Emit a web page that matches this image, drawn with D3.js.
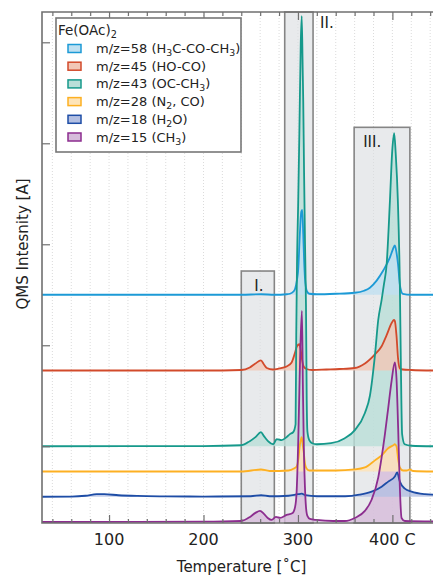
<!DOCTYPE html>
<html><head><meta charset="utf-8">
<script src="https://cdn.jsdelivr.net/npm/d3@7"></script>
<style>
body{margin:0;background:#fff}
svg{display:block;font-family:"DejaVu Sans",sans-serif}
</style>
</head><body>
<svg id="chart" width="433" height="576"></svg>
<script>
// ---------- data ----------
const legendTitle = "Fe(OAc)_2";
const seriesLabels = ["m/z=58 (H_3C-CO-CH_3)","m/z=45 (HO-CO)","m/z=43 (OC-CH_3)","m/z=28 (N_2, CO)","m/z=18 (H_2O)","m/z=15 (CH_3)"];
const offsets = [2.5, 1.75, 1.0, 0.75, 0.5, 0.25];
// [temperature °C, signal above baseline]
const mz58 = [[29,0],[240,0],[261,0.005],[275,0],[288,0.005],[291.5,0.01],[295,0.03],[297,0.06],[299,0.15],[300.3,0.25],[302,0.6],[303.5,0.82],[304.5,0.84],[305.6,0.6],[306.5,0.35],[307.4,0.17],[308.5,0.07],[309.8,0.03],[312,0.01],[320,0.005],[340,0.01],[360,0.02],[370,0.04],[376.2,0.07],[383.3,0.14],[390.3,0.24],[397.4,0.37],[400.5,0.45],[402.6,0.49],[404.3,0.42],[406,0.3],[407.9,0.1],[409.5,0.03],[411,0.01],[420,0],[443,0]];
const mz45 = [[29,0],[200,0],[240,0.005],[249,0.03],[255,0.07],[260.8,0.1],[264,0.06],[267,0.025],[273.5,0.01],[280,0.02],[288,0.04],[293.3,0.08],[296.7,0.17],[299,0.24],[301.5,0.26],[303,0.2],[304.5,0.1],[306,0.04],[309,0.015],[315,0.005],[330,0.01],[344,0.015],[360,0.025],[370.9,0.07],[381.5,0.16],[388.6,0.24],[393.9,0.35],[399.2,0.47],[401.5,0.5],[402.6,0.49],[404.3,0.35],[406,0.12],[407.9,0.02],[411,0.01],[420,0.005],[443,0]];
const mz43 = [[29,0],[200,0.002],[240,0.01],[249,0.05],[255,0.09],[260.8,0.14],[264,0.1],[268.3,0.05],[273.9,0.02],[277.5,0.07],[282.7,0.06],[288,0.09],[291.5,0.12],[295,0.14],[297.5,0.22],[298.2,1.1],[299,1.8],[300.3,2.43],[301.5,3.1],[303,4.0],[304,4.26],[305,3.75],[305.6,3.42],[306.5,2.7],[307.5,2.0],[308.5,1.4],[309.3,0.45],[310,0.15],[312,0.06],[315,0.03],[320,0.02],[335,0.03],[349.7,0.08],[360.3,0.16],[370.9,0.33],[376.2,0.5],[381.5,0.9],[385,1.25],[388.6,1.45],[391,1.6],[393.9,1.8],[397.4,2.43],[399.8,2.92],[401.9,3.1],[403.5,2.9],[405.8,2.43],[407.9,1.6],[409,0.8],[410.3,0.12],[413,0.02],[420,0.005],[443,0]];
const mz28 = [[29,0],[240,0],[261,0.02],[270,0.005],[290,0.01],[295.8,0.03],[298.6,0.05],[300.3,0.11],[302,0.26],[303.9,0.34],[305,0.27],[306.3,0.18],[307.4,0.08],[309.1,0.03],[312,0.01],[340,0.01],[360,0.02],[370.9,0.04],[381.5,0.11],[388.6,0.16],[395.6,0.23],[401,0.26],[402.6,0.27],[404.3,0.25],[406.1,0.12],[407.9,0.04],[411.4,0.01],[415,0.01],[418.5,0.02],[422,0.005],[443,0]];
const mz18 = [[29,0],[60,0.002],[75,0.01],[87,0.025],[95,0.025],[110,0.015],[130,0.008],[160,0.004],[200,0.002],[250,0.005],[261,0.015],[270,0.005],[290,0.01],[300,0.025],[304,0.03],[308,0.015],[320,0.005],[350,0.005],[365,0.02],[378,0.05],[388.6,0.1],[395.6,0.15],[402.6,0.2],[405,0.24],[407.9,0.15],[413.2,0.08],[420.3,0.05],[434.4,0.025],[443,0.02]];
const mz15 = [[29,0],[200,0.003],[240,0.01],[249.2,0.05],[255,0.09],[259.8,0.11],[264,0.08],[268,0.04],[272.2,0.02],[276.7,0.05],[281,0.04],[288,0.07],[294.4,0.09],[297,0.15],[298.6,0.3],[300.3,0.8],[301.5,1.3],[302.5,1.7],[304.2,2.09],[305.3,1.3],[306.3,0.7],[307.4,0.35],[308.5,0.15],[310,0.06],[312.7,0.03],[320,0.02],[337.4,0.01],[349.7,0.01],[360.3,0.04],[370.9,0.11],[378,0.22],[385,0.44],[388.6,0.64],[392.1,0.87],[395.6,1.13],[399.2,1.4],[402.6,1.58],[404.3,1.43],[406.1,0.93],[407.9,0.34],[409.7,0.04],[413.2,0.01],[443,0.005]];
const seriesData = [mz58, mz45, mz43, mz28, mz18, mz15];
const xTicks = [100, 200, 300, 400];
const xTickLabels = ["100", "200", "300", "400 C"];
const xMinorTicks = d3.range(40, 441, 20);
const yTicks = [1, 2, 3, 4, 5];
const regionNames = ["I.", "II.", "III."];
const regionStart = [240, 286, 359.5];
const regionEnd = [275, 316, 418.5];
const regionTop = [2.735, 5.3, 4.158];

// ---------- styles ----------
const lineColors = ["#1c9ad6", "#d24a2b", "#16998b", "#fdb022", "#1e4da6", "#8c2d8f"];
const fillColors = ["#bfe0f1", "#f2c7b6", "#b9dfd8", "#fee4b8", "#b3bfe2", "#d6bcdb"];

// ---------- scales ----------
const svg = d3.select("#chart");
const L = 42, R = 433, T = 12, B = 523;
const x = d3.scaleLinear().domain([29, 443]).range([L, R]);
const y = d3.scaleLinear().domain([0.24, 5.3]).range([B, T]);

const frameColor = "#707070";

// grid
svg.append("g").selectAll("line").data(xMinorTicks).join("line")
  .attr("x1", d => x(d)).attr("x2", d => x(d)).attr("y1", T).attr("y2", B)
  .attr("stroke", "#d2d2d2").attr("stroke-width", 0.8).attr("stroke-dasharray", "1,2");

// regions
const reg = svg.append("g");
regionNames.forEach((n, i) => {
  reg.append("rect")
    .attr("x", x(regionStart[i])).attr("y", y(regionTop[i]))
    .attr("width", x(regionEnd[i]) - x(regionStart[i]))
    .attr("height", B - y(regionTop[i]))
    .attr("fill", "#dcdee2").attr("fill-opacity", 0.65)
    .attr("stroke", "#858585").attr("stroke-width", 1.6);
});

// series: fills (lowest trace first), then lines
const area = d3.area().curve(d3.curveMonotoneX);
const line = d3.line().curve(d3.curveMonotoneX);
const fg = svg.append("g");
const lgp = svg.append("g");
d3.range(seriesData.length).reverse().forEach(i => {
  const off = offsets[i];
  area.x(d => x(d[0])).y0(y(off)).y1(d => y(d[1] + off));
  fg.append("path").attr("d", area(seriesData[i])).attr("fill", fillColors[i]).attr("fill-opacity", 0.8);
});
seriesData.forEach((data, i) => {
  const off = offsets[i];
  line.x(d => x(d[0])).y(d => y(d[1] + off));
  lgp.append("path").attr("d", line(data)).attr("fill", "none")
    .attr("stroke", lineColors[i]).attr("stroke-width", 1.8).attr("stroke-linejoin", "round");
});

// region labels
const labelOffsets = [[13, 20], [7, 16], [9, 20]];
const rl = svg.append("g").attr("font-size", 15).attr("fill", "#222");
regionNames.forEach((n, i) => {
  const bx = i === 1 ? x(regionEnd[i]) : x(regionStart[i]);
  rl.append("text").attr("x", bx + labelOffsets[i][0]).attr("y", y(regionTop[i]) + labelOffsets[i][1]).text(n);
});

// axes
function styleAxis(g) {
  g.select(".domain").remove();
  g.selectAll(".tick line").attr("stroke", frameColor).attr("stroke-width", 1.2);
  g.selectAll(".tick text").remove();
}
svg.append("g").attr("transform", `translate(0,${B})`)
  .call(d3.axisBottom(x).tickValues(xMinorTicks.filter(d => d % 100)).tickSize(-4)).call(styleAxis);
svg.append("g").attr("transform", `translate(0,${B})`)
  .call(d3.axisBottom(x).tickValues(xTicks).tickSize(-8)).call(styleAxis);
svg.append("g").attr("transform", `translate(0,${T})`)
  .call(d3.axisTop(x).tickValues(xMinorTicks.filter(d => d % 100)).tickSize(-4)).call(styleAxis);
svg.append("g").attr("transform", `translate(0,${T})`)
  .call(d3.axisTop(x).tickValues(xTicks).tickSize(-8)).call(styleAxis);
svg.append("g").attr("transform", `translate(${L},0)`)
  .call(d3.axisLeft(y).tickValues(yTicks).tickSize(-8)).call(styleAxis);

// frame
svg.append("path").attr("d", `M${R + 5},${T}H${L}V${B}H${R + 5}`)
  .attr("fill", "none").attr("stroke", frameColor).attr("stroke-width", 1.6);

// tick labels
svg.append("g").attr("font-size", 16).attr("fill", "#222").attr("text-anchor", "middle")
  .selectAll("text").data(xTicks).join("text")
  .attr("x", d => x(d)).attr("y", 545).text((d, i) => xTickLabels[i]);

// axis titles
svg.append("text").attr("x", (L + R) / 2 + 4).attr("y", 572).attr("text-anchor", "middle")
  .attr("font-size", 15).attr("fill", "#222").text("Temperature [˚C]");
svg.append("text").attr("transform", `translate(28,${244}) rotate(-90)`).attr("text-anchor", "middle")
  .attr("font-size", 15).attr("fill", "#222").text("QMS Intesnity [A]");

// legend
function richText(sel, str, size) {
  let shift = 0;
  str.split(/(_\d)/).forEach(part => {
    if (!part) return;
    if (part[0] === "_") {
      sel.append("tspan").attr("font-size", size * 0.72).attr("dy", 3 - shift).text(part.slice(1));
      shift = 3;
    } else {
      sel.append("tspan").attr("dy", -shift).text(part);
      shift = 0;
    }
  });
}
const lg = svg.append("g");
lg.append("rect").attr("x", 56).attr("y", 18).attr("width", 185).attr("height", 134)
  .attr("fill", "#fff").attr("stroke", "#777").attr("stroke-width", 1.6);
richText(lg.append("text").attr("x", 58).attr("y", 34.5).attr("font-size", 13.5).attr("fill", "#222"), legendTitle, 13.5);
seriesLabels.forEach((s, i) => {
  const cy = 48.5 + i * 17.7;
  lg.append("rect").attr("x", 68).attr("y", cy - 4).attr("width", 13).attr("height", 8)
    .attr("fill", fillColors[i]).attr("stroke", lineColors[i]).attr("stroke-width", 1.5);
  richText(lg.append("text").attr("x", 96).attr("y", cy + 4.5).attr("font-size", 13).attr("fill", "#222"), s, 13);
});
</script>
</body></html>
